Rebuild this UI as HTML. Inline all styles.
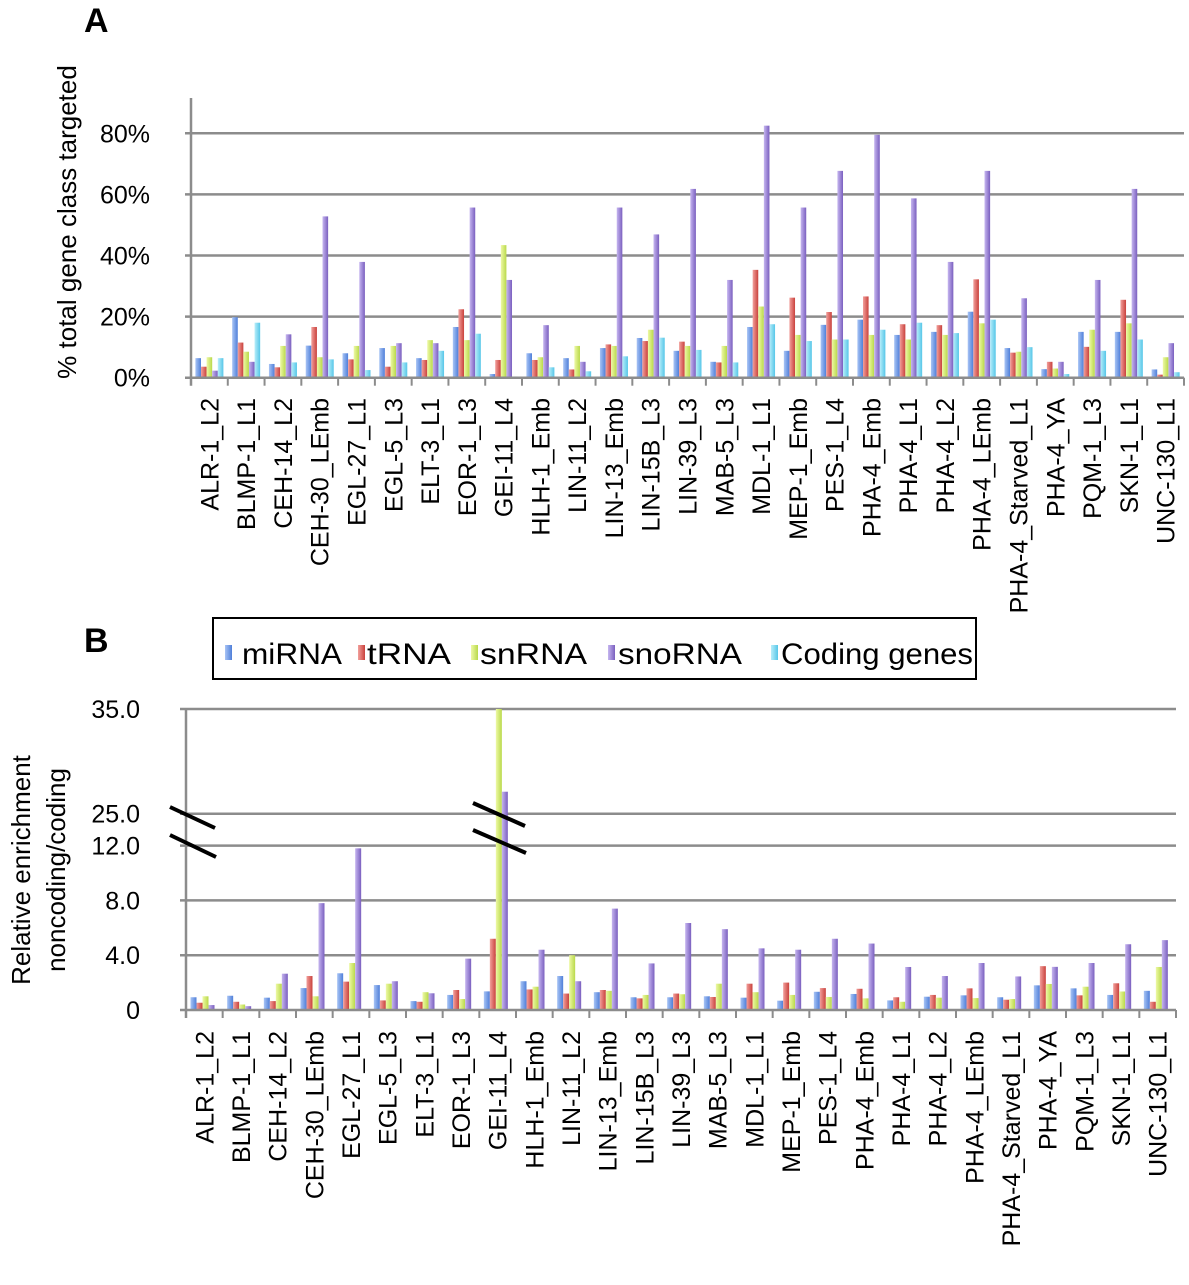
<!DOCTYPE html>
<html><head><meta charset="utf-8"><style>
html,body{margin:0;padding:0;background:#fff}
svg text{font-family:"Liberation Sans",Arial,sans-serif;fill:#000}
</style></head><body>
<svg id="chart" width="1189" height="1280" viewBox="0 0 1189 1280" xmlns="http://www.w3.org/2000/svg">
<defs>
<linearGradient id="gBlue" x1="0" x2="1"><stop offset="0" stop-color="#a8c4f5"/><stop offset="1" stop-color="#4f7fd9"/></linearGradient>
<linearGradient id="gRed" x1="0" x2="1"><stop offset="0" stop-color="#f2a09c"/><stop offset="1" stop-color="#c9413c"/></linearGradient>
<linearGradient id="gGreen" x1="0" x2="1"><stop offset="0" stop-color="#eef9a6"/><stop offset="1" stop-color="#b9d94a"/></linearGradient>
<linearGradient id="gPurple" x1="0" x2="1"><stop offset="0" stop-color="#c6b6f0"/><stop offset="1" stop-color="#7a5fbf"/></linearGradient>
<linearGradient id="gCyan" x1="0" x2="1"><stop offset="0" stop-color="#b8eefa"/><stop offset="1" stop-color="#56c6e8"/></linearGradient>
</defs>
<text x="84" y="32" font-size="34" font-weight="bold">A</text>
<text x="84" y="652" font-size="34" font-weight="bold">B</text>
<text transform="translate(76,222) rotate(-90)" text-anchor="middle" font-size="26">% total gene class targeted</text>
<text transform="translate(30,870) rotate(-90)" text-anchor="middle" font-size="26">Relative enrichment</text>
<text transform="translate(65,870) rotate(-90)" text-anchor="middle" font-size="26">noncoding/coding</text>
<g id="gA"></g>
<g id="gB"></g>
<g>
<rect x="213" y="618" width="763" height="61" fill="#fff" stroke="#000" stroke-width="2"/>
<rect x="225" y="645" width="7" height="15" fill="url(#gBlue)"/><text x="242" y="664" font-size="30" textLength="100" lengthAdjust="spacingAndGlyphs">miRNA</text>
<rect x="358" y="645" width="7" height="15" fill="url(#gRed)"/><text x="367" y="664" font-size="30" textLength="84" lengthAdjust="spacingAndGlyphs">tRNA</text>
<rect x="471" y="645" width="7" height="15" fill="url(#gGreen)"/><text x="480" y="664" font-size="30" textLength="107" lengthAdjust="spacingAndGlyphs">snRNA</text>
<rect x="608" y="645" width="7" height="15" fill="url(#gPurple)"/><text x="618" y="664" font-size="30" textLength="124" lengthAdjust="spacingAndGlyphs">snoRNA</text>
<rect x="771" y="645" width="7" height="15" fill="url(#gCyan)"/><text x="781" y="664" font-size="30" textLength="192" lengthAdjust="spacingAndGlyphs">Coding genes</text>
</g>
</svg>
<script>
const categories=["ALR-1_L2","BLMP-1_L1","CEH-14_L2","CEH-30_LEmb","EGL-27_L1","EGL-5_L3","ELT-3_L1","EOR-1_L3","GEI-11_L4","HLH-1_Emb","LIN-11_L2","LIN-13_Emb","LIN-15B_L3","LIN-39_L3","MAB-5_L3","MDL-1_L1","MEP-1_Emb","PES-1_L4","PHA-4_Emb","PHA-4_L1","PHA-4_L2","PHA-4_LEmb","PHA-4_Starved_L1","PHA-4_YA","PQM-1_L3","SKN-1_L1","UNC-130_L1"];
const seriesNames=["miRNA","tRNA","snRNA","snoRNA","Coding genes"];
const aMiRNA=[6.4,19.8,4.5,10.5,8,9.7,6.4,16.6,1.2,8,6.4,9.7,13,8.8,5.2,16.6,8.8,17.3,19,14,15,21.6,9.7,2.8,15,15,2.7];
const aTRNA=[3.6,11.5,3.4,16.6,6,3.6,5.8,22.4,5.8,5.8,2.7,10.9,12,11.8,5,35.3,26.2,21.5,26.6,17.5,17.2,32.2,8.2,5.2,10.1,25.5,1];
const aSnRNA=[6.7,8.5,10.4,6.7,10.4,10.4,12.3,12.3,43.4,6.7,10.4,10.4,15.7,10.4,10.4,23.3,14,12.5,14,12.5,14,17.8,8.5,3,15.7,17.8,6.7];
const aSnoRNA=[2.3,5.2,14.2,52.8,37.9,11.3,11.3,55.7,32,17.2,5.2,55.7,46.9,61.8,32,82.5,55.7,67.7,79.5,58.7,37.9,67.7,26,5.2,32,61.8,11.3];
const aCoding=[6.4,18,5,6,2.5,5,8.8,14.4,0.4,3.4,2.1,7,13.1,9.1,5,17.5,12,12.5,15.7,18,14.6,19,10,1.2,8.8,12.5,1.8];
const aTicks=[0,20,40,60,80];
const aTickLabels=["0%","20%","40%","60%","80%"];
const bMiRNA=[0.93,1.04,0.9,1.6,2.68,1.82,0.65,1.1,1.36,2.1,2.48,1.3,0.93,0.93,1.0,0.9,0.68,1.33,1.17,0.7,0.97,1.07,0.93,1.8,1.58,1.1,1.4];
const bTRNA=[0.53,0.6,0.65,2.48,2.07,0.7,0.6,1.46,5.2,1.5,1.2,1.46,0.85,1.2,0.95,1.92,2.0,1.6,1.55,0.93,1.1,1.58,0.75,3.2,1.07,1.95,0.6];
const bSnRNA=[1.0,0.4,1.92,1.0,3.43,1.92,1.3,0.8,35,1.7,4.0,1.4,1.1,1.15,1.92,1.3,1.1,0.95,0.85,0.6,0.9,0.87,0.8,1.9,1.7,1.35,3.14];
const bSnoRNA=[0.36,0.28,2.65,7.8,11.8,2.1,1.22,3.75,27.1,4.4,2.1,7.4,3.4,6.35,5.9,4.5,4.4,5.2,4.85,3.14,2.48,3.43,2.45,3.15,3.43,4.8,5.1];
const bTicks=[0,4,8,12,25,35];
const bTickLabels=["0","4.0","8.0","12.0","25.0","35.0"];

const NS="http://www.w3.org/2000/svg";
function mk(tag,attrs,parent){const e=document.createElementNS(NS,tag);for(const k in attrs)e.setAttribute(k,attrs[k]);parent.appendChild(e);return e;}
const fills=["url(#gBlue)","url(#gRed)","url(#gGreen)","url(#gPurple)","url(#gCyan)"];
const keys=["mirna","trna","snrna","snorna","coding"];

// Panel A
const gA=document.getElementById('gA');
const ax0=191,ax1=1184,ay0=377.7,aPx=3.055;
const aBand=(ax1-ax0)/categories.length;
function xA(i){return ax0+i*aBand;}
function yA(v){return ay0-v*aPx;}
aTicks.forEach((t,k)=>{
  if(t>0){const l=mk('line',{x1:ax0-6,x2:ax1,y1:yA(t),y2:yA(t),stroke:'#8c8c8c','stroke-width':2.5},gA);
  
  }
  const tx=mk('text',{x:150,y:yA(t)+9,'text-anchor':'end','font-size':25},gA);
  
  
  tx.textContent=aTickLabels[k];
});
const aSeries=[aMiRNA,aTRNA,aSnRNA,aSnoRNA,aCoding];
const bwA=5.6,offA=(aBand-5*bwA)/2;
categories.forEach((c,i)=>{
  aSeries.forEach((s,j)=>{
    const y=yA(s[i]);
    const r=mk('rect',{x:xA(i)+offA+j*bwA,y:y,width:bwA,height:ay0-y,fill:fills[j]},gA);
    
    
  });
  const tk=mk('line',{x1:xA(i+1),x2:xA(i+1),y1:ay0,y2:ay0+8,stroke:'#8c8c8c','stroke-width':2},gA);
  
  
  const cx=xA(i)+aBand/2;
  const t=mk('text',{transform:'translate('+(cx+9)+',398) rotate(-90)','text-anchor':'end','font-size':25},gA);
  
  
  t.textContent=c;
});
mk('line',{x1:ax0,x2:ax0,y1:98,y2:ay0+8,stroke:'#8c8c8c','stroke-width':2.5},gA);
mk('line',{x1:ax0-6,x2:ax1,y1:ay0,y2:ay0,stroke:'#8c8c8c','stroke-width':2.5},gA);

// Panel B (broken axis)
const gB=document.getElementById('gB');
const bx0=186,bx1=1176,by0=1010,bLow=13.7,by12=846,by25=813.7,bHigh=10.47;
const bBand=(bx1-bx0)/categories.length;
function xB(i){return bx0+i*bBand;}
function yB(v){
  if(v<=12)return by0-v*bLow;
  if(v>=25)return by25-(v-25)*bHigh;
  return by12-(v-12)/13*(by12-by25);
}
bTicks.forEach((t,k)=>{
  if(t>0){const l=mk('line',{x1:bx0-6,x2:bx1,y1:yB(t),y2:yB(t),stroke:'#8c8c8c','stroke-width':2.5},gB);
  
  }
  const tx=mk('text',{x:140,y:yB(t)+9,'text-anchor':'end','font-size':25},gB);
  
  
  tx.textContent=bTickLabels[k];
});
const bSeries=[bMiRNA,bTRNA,bSnRNA,bSnoRNA];
const bwB=6,offB=4.5;
categories.forEach((c,i)=>{
  bSeries.forEach((s,j)=>{
    const y=yB(s[i]);
    const r=mk('rect',{x:xB(i)+offB+j*bwB,y:y,width:bwB,height:by0-y,fill:fills[j]},gB);
    
    
  });
  const tk=mk('line',{x1:xB(i+1),x2:xB(i+1),y1:by0,y2:by0+8,stroke:'#8c8c8c','stroke-width':2},gB);
  
  
  const cx=xB(i)+bBand/2;
  const t=mk('text',{transform:'translate('+(cx+9)+',1031) rotate(-90)','text-anchor':'end','font-size':25},gB);
  
  
  t.textContent=c;
});
mk('line',{x1:bx0,x2:bx0,y1:709,y2:by0+8,stroke:'#8c8c8c','stroke-width':2.5},gB);
mk('line',{x1:bx0-6,x2:bx1,y1:by0,y2:by0,stroke:'#8c8c8c','stroke-width':2.5},gB);
// break marks
[[170,807,215,828],[170,835,216,857],[473,803,525,826],[473,830,526,853]].forEach(p=>{
  const l=mk('line',{x1:p[0],y1:p[1],x2:p[2],y2:p[3],stroke:'#000','stroke-width':4},gB);
  
  
});
</script>
</body></html>
